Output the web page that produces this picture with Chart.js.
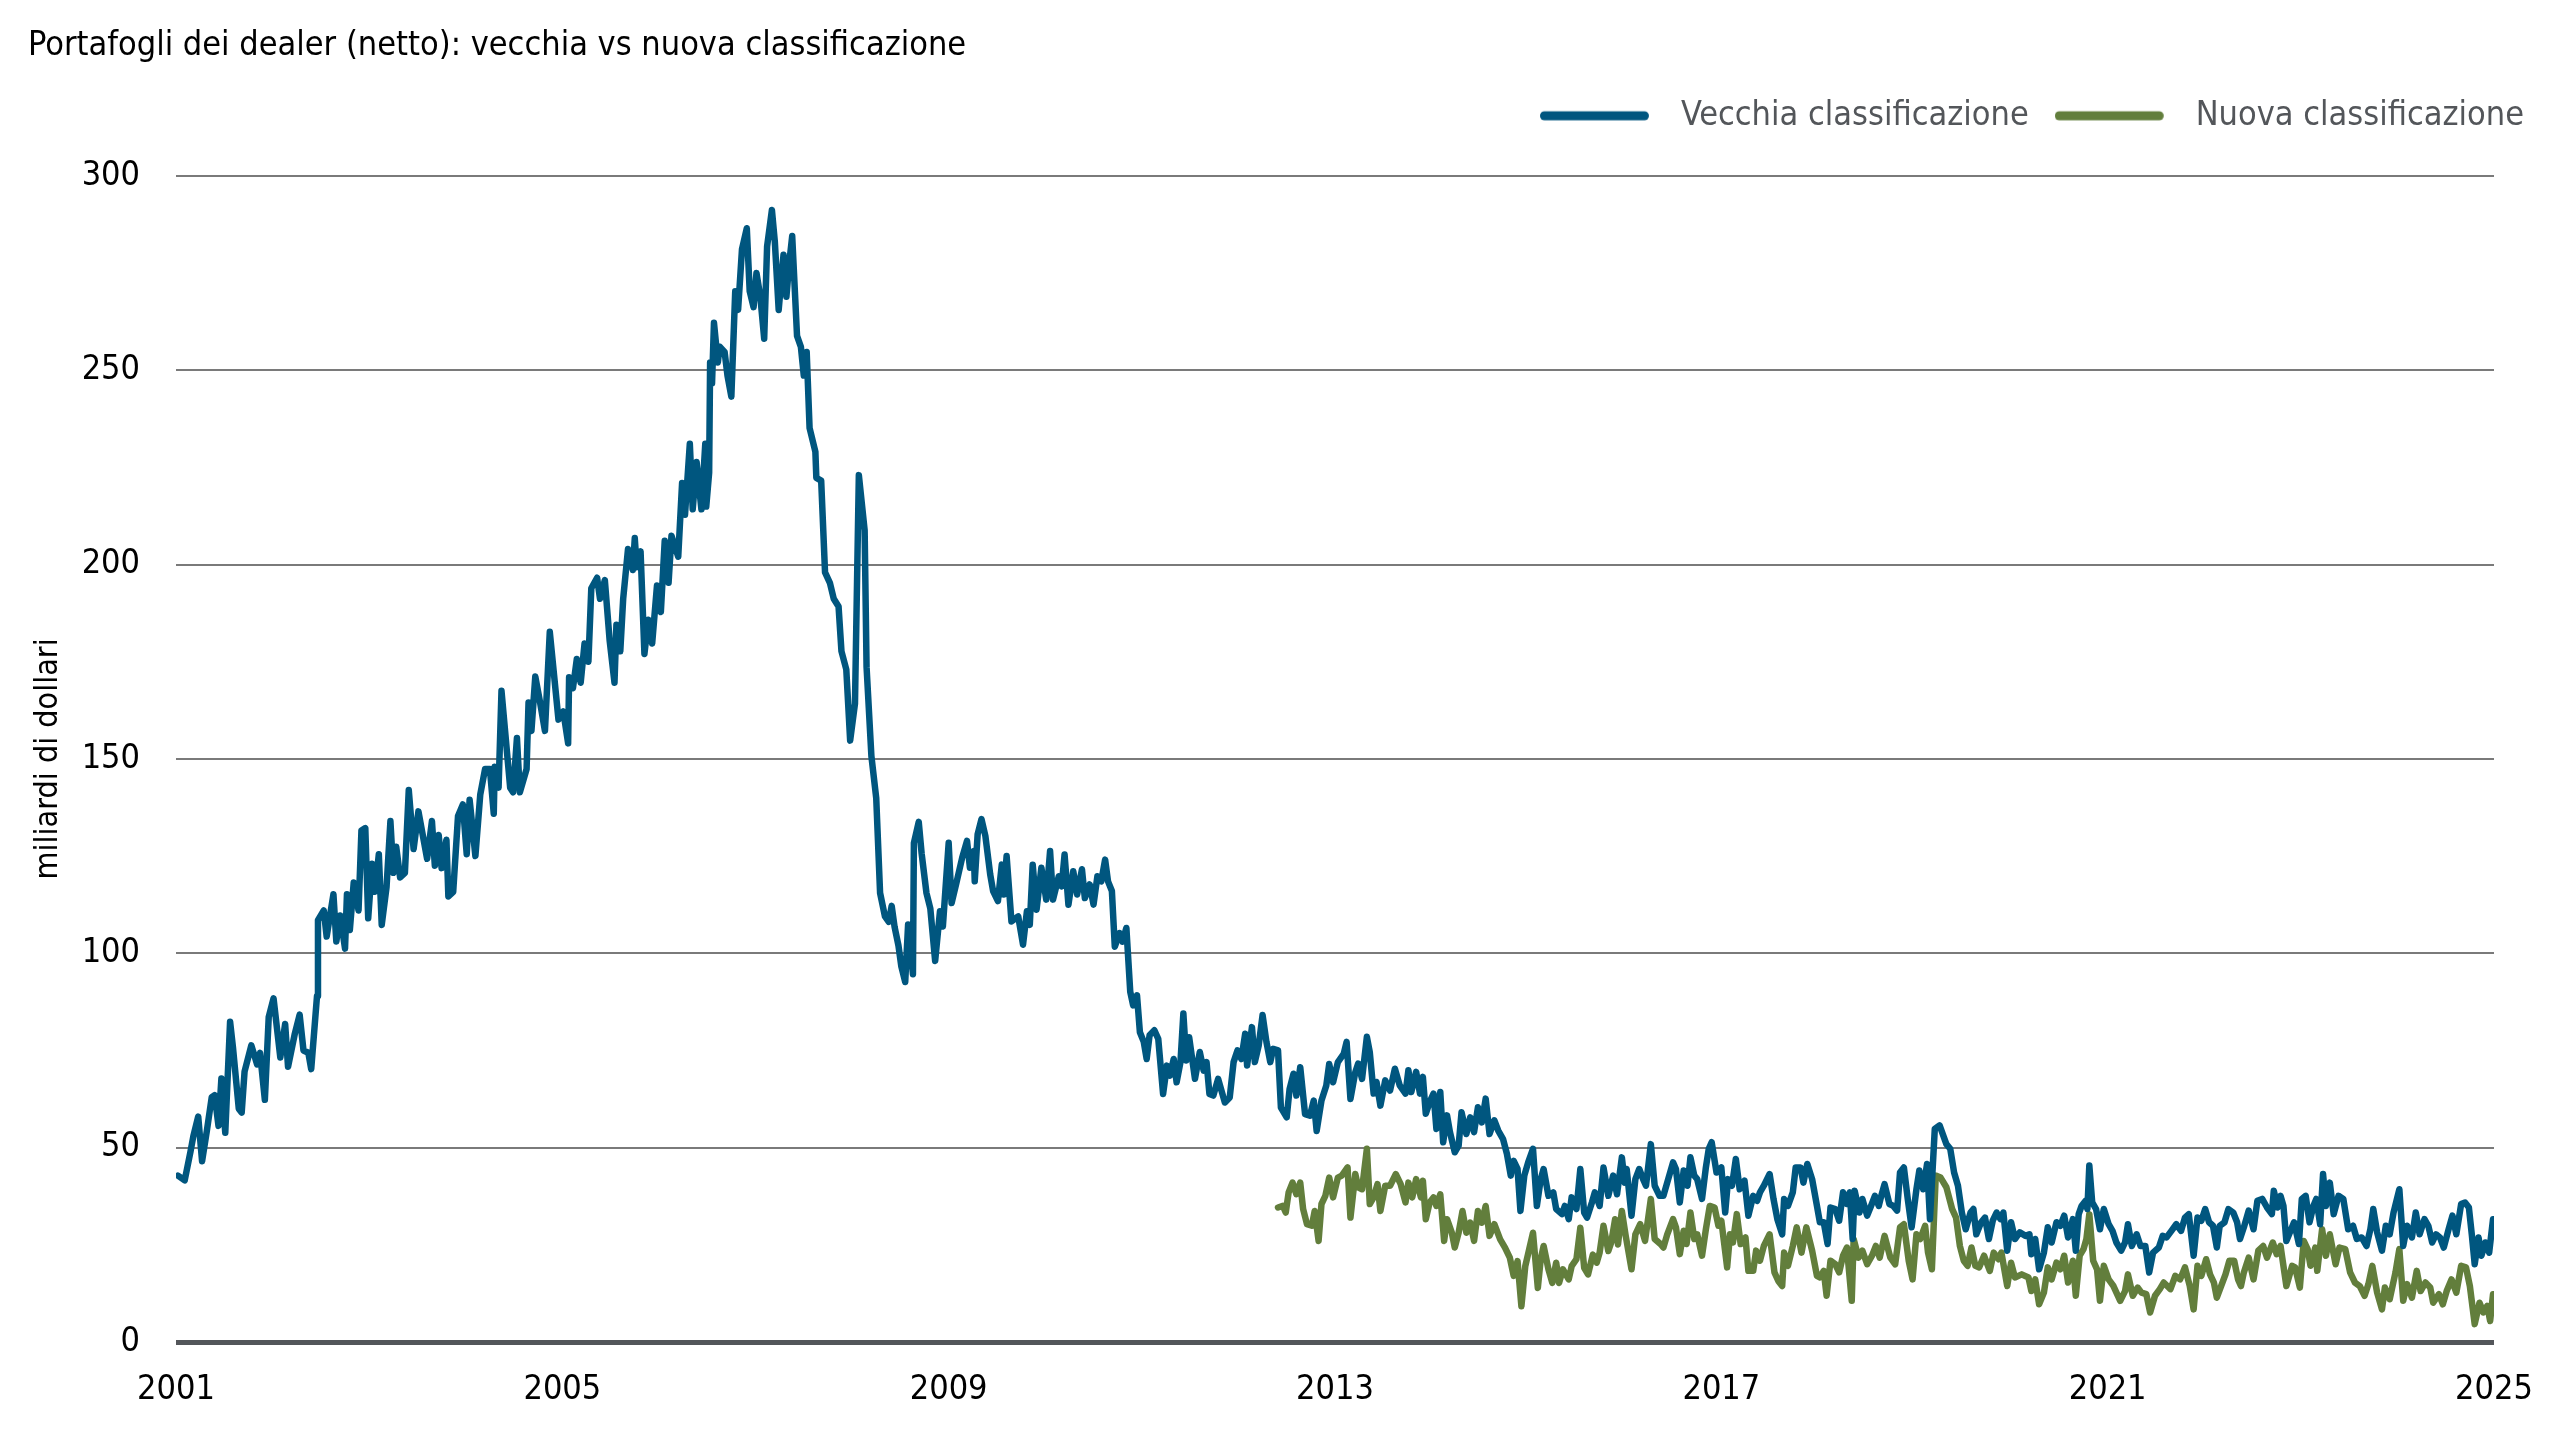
<!DOCTYPE html>
<html lang="it">
<head>
<meta charset="utf-8">
<title>Portafogli dei dealer (netto)</title>
<script src="https://cdn.jsdelivr.net/npm/chart.js@4/dist/chart.umd.min.js"></script>
<style>
  html, body { margin: 0; padding: 0; background: #ffffff; }
  #dealerChart { display: block; }
</style>
</head>
<body>
<canvas id="dealerChart" width="2560" height="1440"></canvas>
<script>
// vecchia classificazione (weekly series)
const oldYears = [
  2001.02, 2001.09, 2001.15, 2001.18, 2001.23, 2001.27, 2001.32, 2001.37, 2001.40, 2001.44, 2001.47, 2001.51,
  2001.56, 2001.59, 2001.65, 2001.68, 2001.71, 2001.78, 2001.84, 2001.87, 2001.92, 2001.96,
  2002.01, 2002.08, 2002.13, 2002.16, 2002.23, 2002.28, 2002.32, 2002.37, 2002.40, 2002.46, 2002.47, 2002.53,
  2002.56, 2002.63, 2002.66, 2002.70, 2002.75, 2002.77, 2002.80, 2002.84, 2002.89, 2002.92, 2002.96, 2002.99,
  2003.03, 2003.06, 2003.10, 2003.13, 2003.18, 2003.22, 2003.25, 2003.28, 2003.32, 2003.37, 2003.41, 2003.46,
  2003.51, 2003.60, 2003.65, 2003.68, 2003.72, 2003.75, 2003.80, 2003.82, 2003.87, 2003.92, 2003.97,
  2004.01, 2004.04, 2004.10, 2004.15, 2004.20, 2004.25, 2004.29, 2004.30, 2004.34, 2004.37, 2004.46, 2004.49,
  2004.53, 2004.56, 2004.63, 2004.65, 2004.68, 2004.72, 2004.77, 2004.82, 2004.87, 2004.96,
  2005.01, 2005.06, 2005.07, 2005.11, 2005.15, 2005.19, 2005.23, 2005.27, 2005.30, 2005.36, 2005.39, 2005.44,
  2005.49, 2005.54, 2005.56, 2005.60, 2005.63, 2005.68, 2005.73, 2005.75, 2005.77, 2005.81, 2005.85, 2005.89,
  2005.93, 2005.98,
  2006.02, 2006.06, 2006.10, 2006.13, 2006.20, 2006.24, 2006.27, 2006.32, 2006.35, 2006.39, 2006.44, 2006.48,
  2006.49, 2006.52, 2006.53, 2006.55, 2006.57, 2006.61, 2006.63, 2006.68, 2006.71, 2006.75, 2006.79, 2006.82,
  2006.86, 2006.91, 2006.94, 2006.98,
  2007.01, 2007.05, 2007.09, 2007.12, 2007.17, 2007.20, 2007.24, 2007.29, 2007.32, 2007.35, 2007.38, 2007.43,
  2007.47, 2007.50, 2007.53, 2007.56, 2007.62, 2007.63, 2007.68, 2007.72, 2007.77, 2007.81, 2007.86, 2007.89,
  2007.94, 2007.98,
  2008.03, 2008.07, 2008.13, 2008.15, 2008.20, 2008.25, 2008.29, 2008.34, 2008.38, 2008.41, 2008.44, 2008.48,
  2008.51, 2008.55, 2008.58, 2008.63, 2008.64, 2008.69, 2008.72, 2008.77, 2008.81, 2008.86, 2008.91, 2008.94,
  2009.00, 2009.03, 2009.08, 2009.14, 2009.19, 2009.22, 2009.26, 2009.27, 2009.30, 2009.34, 2009.38, 2009.43,
  2009.46, 2009.51, 2009.55, 2009.57, 2009.60, 2009.65, 2009.72, 2009.77, 2009.81, 2009.84, 2009.87, 2009.91,
  2009.96,
  2010.01, 2010.05, 2010.08, 2010.14, 2010.17, 2010.20, 2010.24, 2010.29, 2010.33, 2010.38, 2010.41, 2010.46,
  2010.50, 2010.54, 2010.58, 2010.62, 2010.65, 2010.69, 2010.72, 2010.77, 2010.80, 2010.84, 2010.88, 2010.91,
  2010.95, 2010.98,
  2011.02, 2011.05, 2011.08, 2011.13, 2011.17, 2011.22, 2011.26, 2011.29, 2011.33, 2011.36, 2011.40, 2011.43,
  2011.46, 2011.49, 2011.55, 2011.60, 2011.64, 2011.67, 2011.70, 2011.74, 2011.79, 2011.86, 2011.91, 2011.95,
  2011.99,
  2012.03, 2012.07, 2012.09, 2012.14, 2012.17, 2012.21, 2012.25, 2012.29, 2012.33, 2012.36, 2012.41, 2012.44,
  2012.50, 2012.53, 2012.57, 2012.60, 2012.64, 2012.69, 2012.74, 2012.78, 2012.81, 2012.86, 2012.91, 2012.94,
  2012.98,
  2013.03, 2013.09, 2013.12, 2013.16, 2013.21, 2013.24, 2013.28, 2013.33, 2013.36, 2013.40, 2013.43, 2013.47,
  2013.52, 2013.57, 2013.62, 2013.67, 2013.73, 2013.76, 2013.79, 2013.84, 2013.88, 2013.91, 2013.94, 2013.98,
  2014.02, 2014.05, 2014.09, 2014.12, 2014.16, 2014.19, 2014.24, 2014.28, 2014.31, 2014.36, 2014.40, 2014.44,
  2014.48, 2014.52, 2014.56, 2014.60, 2014.65, 2014.69, 2014.74, 2014.78, 2014.82, 2014.85, 2014.89, 2014.92,
  2014.96,
  2015.00, 2015.05, 2015.09, 2015.13, 2015.16, 2015.21, 2015.26, 2015.29, 2015.35, 2015.38, 2015.42, 2015.45,
  2015.50, 2015.54, 2015.58, 2015.61, 2015.66, 2015.69, 2015.74, 2015.78, 2015.83, 2015.88, 2015.92, 2015.97,
  2016.00, 2016.02, 2016.07, 2016.11, 2016.15, 2016.19, 2016.22, 2016.27, 2016.31, 2016.36, 2016.40, 2016.45,
  2016.50, 2016.53, 2016.57, 2016.61, 2016.65, 2016.68, 2016.72, 2016.75, 2016.80, 2016.84, 2016.87, 2016.90,
  2016.95,
  2017.00, 2017.04, 2017.07, 2017.11, 2017.15, 2017.19, 2017.24, 2017.28, 2017.33, 2017.37, 2017.40, 2017.44,
  2017.50, 2017.54, 2017.58, 2017.63, 2017.65, 2017.69, 2017.74, 2017.77, 2017.82, 2017.85, 2017.89, 2017.94,
  2017.99,
  2018.02, 2018.06, 2018.10, 2018.13, 2018.18, 2018.22, 2018.26, 2018.30, 2018.33, 2018.36, 2018.38, 2018.43,
  2018.46, 2018.51, 2018.55, 2018.59, 2018.63, 2018.66, 2018.69, 2018.74, 2018.78, 2018.82, 2018.85, 2018.89,
  2018.93, 2018.97,
  2019.02, 2019.05, 2019.09, 2019.13, 2019.16, 2019.21, 2019.26, 2019.33, 2019.37, 2019.41, 2019.45, 2019.49,
  2019.53, 2019.58, 2019.61, 2019.64, 2019.69, 2019.73, 2019.77, 2019.81, 2019.85, 2019.89, 2019.92, 2019.96,
  2020.00, 2020.04, 2020.09, 2020.15, 2020.19, 2020.21, 2020.25, 2020.29, 2020.34, 2020.38, 2020.42, 2020.47,
  2020.51, 2020.55, 2020.59, 2020.64, 2020.67, 2020.70, 2020.73, 2020.77, 2020.79, 2020.81, 2020.84, 2020.88,
  2020.92, 2020.96,
  2021.01, 2021.05, 2021.09, 2021.14, 2021.18, 2021.21, 2021.25, 2021.30, 2021.34, 2021.39, 2021.43, 2021.47,
  2021.53, 2021.57, 2021.61, 2021.66, 2021.71, 2021.76, 2021.80, 2021.84, 2021.89, 2021.93, 2021.97,
  2022.01, 2022.05, 2022.09, 2022.13, 2022.16, 2022.21, 2022.25, 2022.30, 2022.34, 2022.37, 2022.41, 2022.46,
  2022.51, 2022.55, 2022.60, 2022.65, 2022.70, 2022.72, 2022.76, 2022.79, 2022.82, 2022.85, 2022.90, 2022.93,
  2022.98,
  2023.01, 2023.05, 2023.09, 2023.13, 2023.16, 2023.20, 2023.23, 2023.26, 2023.30, 2023.34, 2023.39, 2023.44,
  2023.49, 2023.54, 2023.58, 2023.63, 2023.68, 2023.72, 2023.75, 2023.79, 2023.84, 2023.88, 2023.92, 2023.96,
  2024.02, 2024.06, 2024.10, 2024.15, 2024.19, 2024.23, 2024.28, 2024.32, 2024.36, 2024.40, 2024.44, 2024.48,
  2024.53, 2024.57, 2024.61, 2024.66, 2024.70, 2024.74, 2024.77, 2024.80, 2024.84, 2024.87, 2024.91, 2024.95,
  2024.99
];
const oldValues = [
  42.8, 41.6, 49, 53, 58, 46.5, 54.4, 63, 63.5, 55.6, 67.8, 53.8,
  82.4, 75.7, 60, 59, 69.6, 76.3, 71.4, 74.4, 62.3, 83.6,
  88.4, 73.2, 81.8, 70.8, 79.3, 84.2, 75, 74.4, 70.2, 89, 108.5, 111,
  104.3, 115.2, 103, 109.7, 101.2, 115.2, 106, 118.2, 111, 131.6, 132.2, 109,
  123, 115.8, 125.5, 107.3, 117, 134, 120.7, 127.4, 119.5, 120.7, 142, 126.8,
  136.5, 124.3, 134, 122.5, 130.4, 121.9, 129.2, 114.6, 115.8, 135.3, 138.3,
  125.5, 139.5, 125, 140.8, 147.4, 147.4, 135.9, 148, 142.6, 167.5, 142.6, 141.4,
  155.4, 141.4, 147.4, 164.5, 157.2, 171.2, 164.5, 157.2, 182.7, 160.1,
  162.2, 154, 171, 168.2, 175.7, 169.6, 179.7, 175, 193.9, 196.6, 191.2, 196,
  180.4, 169.6, 184.5, 177.7, 191.2, 204, 198.6, 206.8, 199.3, 203.4, 177, 185.8,
  179.7, 194.6,
  187.8, 206.1, 195.3, 207.4, 202, 221, 212.8, 231.1, 214.2, 226.4, 214.2, 231.1,
  214.9, 223.6, 252, 246.6, 262.2, 252, 256, 254.7, 248.6, 243.2, 270.3, 265.5,
  281.1, 286.5, 270.3, 266.2,
  275, 268.9, 258.1, 281.8, 291.2, 283.1, 265.5, 279.7, 268.9, 277.7, 284.5, 258.8,
  256, 248.6, 254.7, 235.1, 229, 222.3, 221.6, 198, 195.3, 191.2, 189.2, 177.7,
  173, 154.7,
  164.2, 223, 208.8, 173.6, 150.7, 139.9, 115.5, 109.5, 108.1, 112.2, 106.8, 102,
  96.6, 92.6, 107.4, 94.6, 128.4, 133.8, 125.7, 115.5, 111.5, 98, 110.8, 106.9,
  128.4, 112.9, 118.1, 124.6, 128.9, 122, 126.3, 118.5, 130.6, 134.5, 130.2, 120.3,
  116, 113.4, 122.8, 115.1, 125, 108.2, 109.5, 102.2, 110.8, 107.3, 122.8, 111.2,
  122,
  113.8, 126.3, 113.8, 119.8, 117.2, 125.4, 112.5, 121.1, 115.1, 121.6, 114.2, 117.7,
  112.5, 119.8, 118.5, 124.1, 118.5, 116, 101.7, 105.2, 103, 106.5, 90.1, 86.6,
  89.2, 79.7,
  77.2, 72.8, 78.9, 80.2, 78, 63.8, 71.1, 68.5, 72.8, 66.8, 72, 84.5,
  72.4, 78.4, 67.7, 74.6, 69.8, 72, 63.8, 63.4, 67.7, 61.6, 62.9, 72,
  75,
  72.8, 79.3, 71.1, 81, 72, 76.3, 84.1, 77.2, 72, 75.4, 75, 60.3,
  57.8, 65.1, 69, 63.4, 70.7, 58.6, 58.2, 62.1, 54.3, 62.1, 66, 71.5,
  66.8,
  72, 74.1, 77.2, 62.5, 69.4, 71.6, 67.7, 78.5, 74.6, 63.9, 66.9, 60.8,
  67.3, 64.7, 70.3, 66, 63.9, 69.9, 64.3, 69.5, 63.9, 68.2, 58.7, 61.7,
  63.9, 54.8, 64.3, 51.4, 58.3, 54, 48.8, 50.5, 59.1, 53.5, 57.8, 54,
  60.4, 56.5, 62.6, 53.5, 57, 54.4, 52.2, 48.4, 42.8, 46.6, 44.5, 33.7,
  42.8,
  46.2, 49.7, 35, 41.9, 44.5, 37.6, 38.5, 34.2, 32.9, 35, 31.6, 37.2,
  34.2, 44.5, 33.3, 32, 35.9, 38.5, 35, 44.9, 37.6, 42.8, 38, 47.5,
  41, 44.5, 32.5, 41.9, 44.5, 41.9, 40.2, 50.9, 40.2, 37.6, 37.6, 41.9,
  46.2, 44.5, 35.9, 44.1, 40.2, 47.5, 42.8, 41.9, 36.8, 44.9, 49.7, 51.4,
  43.6,
  44.9, 33.3, 41.9, 40.2, 47.1, 39.3, 41.5, 32.5, 37.6, 36.3, 38.5, 40.2,
  43.2, 36.8, 31.6, 27.7, 36.8, 35, 38.5, 44.9, 44.9, 41, 45.8, 41.9,
  35,
  30.8, 30.8, 25.2, 34.6, 34.2, 31.2, 38.5, 35.5, 38.5, 26.5, 38.9, 33.3,
  36.8, 32.5, 35, 37.6, 35, 38, 40.6, 35.5, 35, 33.8, 43.6, 44.9,
  36.8, 29.5,
  39.3, 44.1, 39.3, 45.8, 31.6, 54.8, 55.7, 50.9, 49.7, 43.6, 40.2, 33.3,
  29, 33.3, 34.2, 27.7, 30.8, 32, 26.5, 31.2, 33.3, 31.6, 33.3, 23.5,
  30.8, 26.5, 28.2, 27.3, 27.7, 22.6, 26.5, 18.7, 23, 29.5, 25.6, 30.8,
  29.9, 32.5, 26.9, 31.6, 23.5, 32.9, 35, 36.3, 34.2, 45.4, 35.9, 34.2,
  29, 34.2,
  30.3, 28.6, 25.6, 23.5, 25.6, 30.3, 24.7, 27.7, 24.7, 24.7, 17.9, 23,
  24.3, 27.3, 26.9, 28.6, 30.3, 28.6, 32, 32.9, 22.2, 32, 31.2,
  34.2, 30.8, 29.9, 24.3, 29.9, 30.8, 34.2, 33.3, 30.8, 26.5, 29.5, 33.8,
  29, 36.3, 36.8, 34.6, 32.9, 38.9, 34.6, 37.6, 35, 26, 29, 30.8,
  25.2,
  36.8, 37.6, 30.8, 35, 36.8, 30.3, 43.2, 35, 41, 32.9, 37.6, 36.8,
  29, 29.9, 26.5, 26.9, 24.7, 29, 34.2, 28.2, 23.5, 29.9, 27.7, 33.3,
  39.3, 24.7, 29.9, 26.9, 33.3, 27.7, 31.6, 29.9, 25.6, 27.7, 26.9, 24.3,
  29, 32.5, 27.7, 35.5, 35.9, 34.6, 27.7, 20, 26.9, 22.2, 25.6, 23,
  31.6
];

// nuova classificazione (starts mid-2012)
const newYears = [
  2012.41, 2012.46, 2012.49, 2012.52, 2012.56, 2012.60, 2012.64, 2012.67, 2012.71, 2012.76, 2012.79, 2012.83,
  2012.86, 2012.90, 2012.94, 2012.98,
  2013.03, 2013.07, 2013.13, 2013.16, 2013.21, 2013.24, 2013.28, 2013.33, 2013.36, 2013.40, 2013.44, 2013.47,
  2013.52, 2013.57, 2013.63, 2013.68, 2013.73, 2013.76, 2013.80, 2013.84, 2013.89, 2013.91, 2013.94, 2013.98,
  2014.02, 2014.05, 2014.09, 2014.13, 2014.16, 2014.21, 2014.24, 2014.28, 2014.32, 2014.36, 2014.40, 2014.44,
  2014.48, 2014.52, 2014.56, 2014.60, 2014.65, 2014.71, 2014.76, 2014.81, 2014.85, 2014.89, 2014.93, 2014.97,
  2015.01, 2015.05, 2015.10, 2015.13, 2015.16, 2015.21, 2015.25, 2015.29, 2015.32, 2015.36, 2015.42, 2015.45,
  2015.50, 2015.54, 2015.58, 2015.62, 2015.67, 2015.71, 2015.74, 2015.78, 2015.83, 2015.86, 2015.90, 2015.93,
  2015.97, 2016.01,
  2016.07, 2016.11, 2016.16, 2016.21, 2016.27, 2016.31, 2016.37, 2016.40, 2016.44, 2016.50, 2016.53, 2016.57,
  2016.61, 2016.64, 2016.68, 2016.72, 2016.75, 2016.80, 2016.84, 2016.88, 2016.93, 2016.97,
  2017.00, 2017.06, 2017.09, 2017.12, 2017.16, 2017.20, 2017.25, 2017.28, 2017.33, 2017.36, 2017.40, 2017.44,
  2017.50, 2017.55, 2017.59, 2017.63, 2017.65, 2017.69, 2017.74, 2017.78, 2017.83, 2017.88, 2017.94, 2017.99,
  2018.02, 2018.06, 2018.09, 2018.13, 2018.18, 2018.22, 2018.26, 2018.30, 2018.35, 2018.37, 2018.42, 2018.46,
  2018.51, 2018.56, 2018.60, 2018.64, 2018.69, 2018.75, 2018.80, 2018.85, 2018.89, 2018.94, 2018.98,
  2019.02, 2019.06, 2019.11, 2019.14, 2019.18, 2019.22, 2019.27, 2019.33, 2019.39, 2019.43, 2019.47, 2019.51,
  2019.55, 2019.59, 2019.63, 2019.67, 2019.72, 2019.78, 2019.82, 2019.87, 2019.90, 2019.96,
  2020.00, 2020.04, 2020.11, 2020.18, 2020.21, 2020.25, 2020.29, 2020.34, 2020.38, 2020.42, 2020.47, 2020.51,
  2020.55, 2020.59, 2020.64, 2020.67, 2020.71, 2020.75, 2020.78, 2020.81, 2020.85, 2020.89, 2020.92, 2020.96,
  2021.01, 2021.06, 2021.13, 2021.18, 2021.21, 2021.26, 2021.31, 2021.35, 2021.40, 2021.44, 2021.49, 2021.54,
  2021.58, 2021.65, 2021.70, 2021.75, 2021.80, 2021.85, 2021.89, 2021.93, 2021.97,
  2022.02, 2022.06, 2022.10, 2022.13, 2022.22, 2022.26, 2022.31, 2022.35, 2022.38, 2022.41, 2022.46, 2022.51,
  2022.56, 2022.61, 2022.65, 2022.71, 2022.75, 2022.79, 2022.85, 2022.91, 2022.94, 2022.99,
  2023.03, 2023.07, 2023.10, 2023.15, 2023.17, 2023.22, 2023.26, 2023.30, 2023.36, 2023.40, 2023.46, 2023.51,
  2023.56, 2023.61, 2023.66, 2023.70, 2023.74, 2023.79, 2023.84, 2023.87, 2023.92, 2023.98,
  2024.02, 2024.06, 2024.10, 2024.15, 2024.20, 2024.24, 2024.29, 2024.34, 2024.37, 2024.43, 2024.47, 2024.51,
  2024.56, 2024.61, 2024.66, 2024.71, 2024.75, 2024.80, 2024.85, 2024.89, 2024.93, 2024.96, 2024.99
];
const newValues = [
  34.6, 35, 33.3, 38.5, 41, 38, 41, 34.2, 30.3, 29.9, 33.7, 26,
  35.5, 37.6, 42.3, 37.2,
  42.3, 42.8, 44.9, 32, 43.2, 39.8, 39.3, 49.7, 35.5, 37.2, 40.6, 33.7,
  40.2, 40.2, 43.2, 40.6, 35.9, 41, 37.2, 41.9, 37.2, 41.5, 31.6, 35.9,
  37.2, 35, 38, 26, 31.6, 28.1, 24.3, 28.1, 33.7, 28.1, 30.7, 26,
  33.7, 30.7, 35, 27.3, 30.3, 26.4, 24.3, 21.7, 17, 20.8, 9.2, 19.5,
  23.8, 28.1, 13.9, 21.3, 24.7, 18.7, 15.2, 20.4, 15.2, 18.7, 16.1, 19.5,
  21.3, 29.4, 19.1, 17.4, 22.5, 20.4, 23, 29.9, 23.4, 25.6, 31.6, 25.1,
  33.7, 27.3,
  18.7, 27.7, 30.3, 26, 36.8, 26.5, 25.2, 24.3, 27.7, 31.6, 29.5, 22.6,
  28.6, 25.2, 33.3, 26.5, 27.7, 22.2, 29, 35, 34.6, 29.9,
  31.2, 19.2, 27.7, 25.6, 32.9, 25.2, 26.9, 18.3, 18.3, 23.5, 20.9, 24.7,
  27.7, 17.9, 15.7, 14.4, 23, 19.6, 24.7, 29.5, 23, 29.5, 23.5, 17,
  16.6, 18.3, 11.9, 20.9, 20, 17.9, 22.2, 24.3, 10.6, 26.5, 21.7, 23.5,
  20, 22.2, 24.7, 21.7, 27.3, 21.7, 20, 29.5, 30.3, 20.9, 16.1,
  27.7, 26.5, 29.9, 23, 18.7, 42.8, 42.3, 39.8, 34.2, 32, 24.7, 20.9,
  19.6, 24.3, 19.6, 19.2, 22.2, 18.3, 23, 21.3, 23, 14.4,
  20.4, 16.6, 17.4, 16.6, 13.1, 16.1, 9.7, 12.7, 19.2, 16.1, 20.4, 18.7,
  22.2, 15.3, 20.9, 11.9, 22.2, 23.9, 26.5, 32.9, 20.9, 18.7, 10.6, 19.6,
  16.1, 14.4, 10.6, 13.1, 17.4, 11.9, 14, 12.7, 12.3, 7.6, 11.9, 13.6,
  15.3, 13.6, 17, 16.1, 19.2, 14.4, 8.4, 19.6, 17,
  21.3, 17.4, 15.3, 11.4, 17.4, 20.9, 20.9, 16.1, 14.4, 17.9, 21.7, 16.1,
  23.5, 24.7, 21.7, 25.6, 22.6, 24.7, 14.4, 19.6, 19.2, 14,
  26, 23.9, 19.6, 24.3, 18.3, 29, 22.2, 27.7, 20, 24.3, 23.9, 17.9,
  15.3, 14.4, 11.9, 14.9, 19.6, 12.7, 8.4, 14, 11, 17.9,
  23.9, 10.6, 14.9, 11.4, 18.3, 13.1, 15.3, 14, 10.1, 12.3, 9.7, 13.1,
  16.1, 12.7, 19.6, 19.2, 14.4, 4.6, 10.1, 7.6, 9.3, 5.4, 12.3
];

const seriesLabels = ['Vecchia classificazione', 'Nuova classificazione'];
const seriesColors = ['#00567f', '#627e3c'];
const yearTicks = { min: 2001, max: 2025, step: 4 };
const valueTicks = { min: 0, max: 300, step: 50 };

// no condensed Roboto offline: DejaVu Sans Condensed is the closest narrow face
const FONT = "'DejaVu Sans Condensed', 'Liberation Sans Narrow', 'Roboto', sans-serif";
Chart.defaults.font.family = FONT;
Chart.defaults.color = '#000000';

function toPoints(xs, ys) {
    return xs.map((x, i) => ({ x: x, y: ys[i] }));
}

// legend swatch: rounded bar with some empty room on its right
function legendSwatch(color) {
    const c = document.createElement('canvas');
    c.width = 124;
    c.height = 12;
    const g = c.getContext('2d');
    g.strokeStyle = color;
    g.lineWidth = 9;
    g.lineCap = 'round';
    g.beginPath();
    g.moveTo(4.5, 6);
    g.lineTo(104.5, 6);
    g.stroke();
    return c;
}
const swatches = seriesColors.map(legendSwatch);

const ctx = document.getElementById('dealerChart').getContext('2d');
new Chart(ctx, {
    type: 'line',
    data: {
        datasets: [
            {
                label: seriesLabels[0],
                data: toPoints(oldYears, oldValues),
                borderColor: seriesColors[0],
                backgroundColor: seriesColors[0],
                borderWidth: 6.5,
                pointRadius: 0,
                tension: 0,
                borderJoinStyle: 'round',
                borderCapStyle: 'round'
            },
            {
                label: seriesLabels[1],
                data: toPoints(newYears, newValues),
                borderColor: seriesColors[1],
                backgroundColor: seriesColors[1],
                borderWidth: 6.5,
                pointRadius: 0,
                tension: 0,
                borderJoinStyle: 'round',
                borderCapStyle: 'round'
            }
        ]
    },
    options: {
        responsive: false,
        devicePixelRatio: 1,
        animation: false,
        layout: { padding: { left: 28, right: 10, top: 0, bottom: 0 } },
        plugins: {
            title: {
                display: true,
                text: 'Portafogli dei dealer (netto): vecchia vs nuova classificazione',
                align: 'start',
                color: '#000000',
                font: { size: 34, weight: 'normal' },
                padding: { top: 26, bottom: 6 }
            },
            // empty spacer between legend and plot area
            subtitle: {
                display: true,
                text: '',
                weight: 500,
                font: { size: 10, lineHeight: 1 },
                padding: { top: 23, bottom: 0 }
            },
            legend: {
                position: 'top',
                align: 'end',
                labels: {
                    usePointStyle: true,
                    pointStyleWidth: 124,
                    padding: 26,
                    color: '#53565a',
                    font: { size: 34 },
                    generateLabels(chart) {
                        const items = Chart.defaults.plugins.legend.labels.generateLabels(chart);
                        items.forEach(item => { item.pointStyle = swatches[item.datasetIndex]; });
                        return items;
                    }
                }
            },
            tooltip: { enabled: false }
        },
        scales: {
            x: {
                type: 'linear',
                min: yearTicks.min,
                max: yearTicks.max,
                grid: { display: false, drawTicks: false },
                border: { display: false },
                ticks: {
                    stepSize: yearTicks.step,
                    autoSkip: false,
                    maxRotation: 0,
                    padding: 28,
                    color: '#000000',
                    font: { size: 34 },
                    callback: v => String(v)
                },
                afterFit(scale) {
                    scale.height = 98;
                    scale.paddingRight = 66;
                }
            },
            y: {
                min: valueTicks.min,
                max: valueTicks.max,
                grid: {
                    drawTicks: false,
                    color: c => (c.tick && c.tick.value === 0 ? '#53565a' : '#7a7a7a'),
                    lineWidth: c => (c.tick && c.tick.value === 0 ? 5 : 2)
                },
                border: { display: false },
                ticks: {
                    stepSize: valueTicks.step,
                    padding: 36,
                    color: '#000000',
                    font: { size: 34 }
                },
                title: {
                    display: true,
                    text: 'miliardi di dollari',
                    color: '#000000',
                    font: { size: 32, lineHeight: 1 },
                    padding: { top: 5, bottom: 0 }
                },
                afterFit(scale) {
                    scale.width = 148;
                }
            }
        }
    }
});
</script>
</body>
</html>
